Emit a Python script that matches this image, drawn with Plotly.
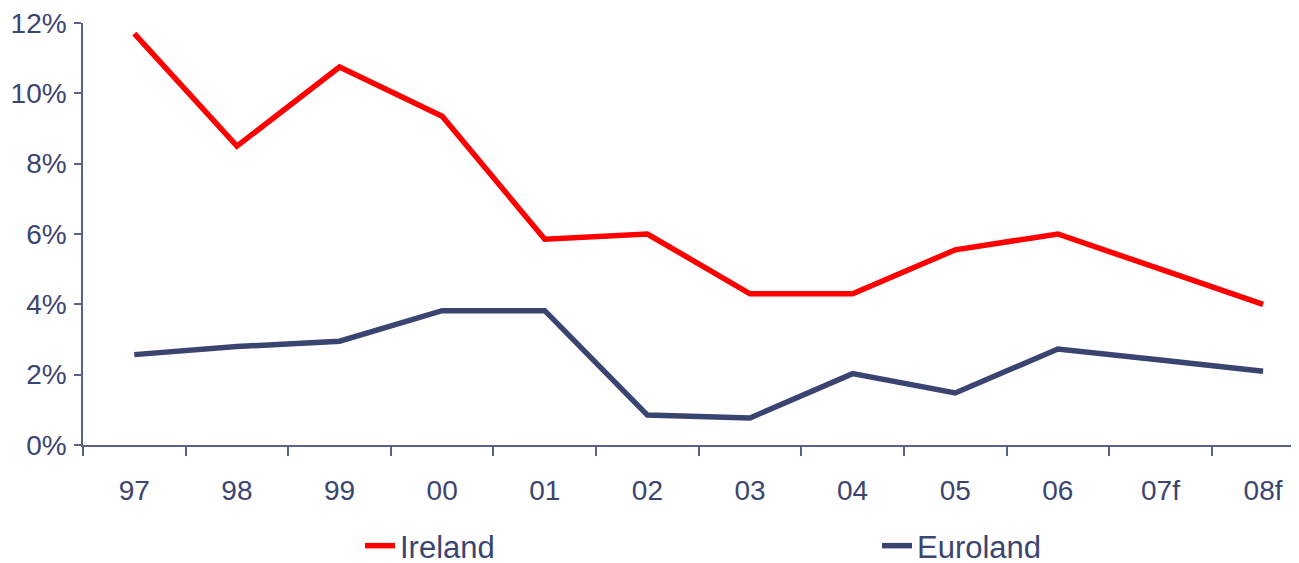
import plotly.graph_objects as go

years = ["97", "98", "99", "00", "01", "02", "03", "04", "05", "06", "07f", "08f"]
ireland = [11.7, 8.5, 10.75, 9.35, 5.85, 6.0, 4.3, 4.3, 5.55, 6.0, 5.0, 4.0]
euroland = [2.57, 2.8, 2.95, 3.82, 3.82, 0.85, 0.77, 2.03, 1.48, 2.73, 2.42, 2.1]

axis_color = "#5a6385"
text_color = "#3b4570"
font_family = "Liberation Sans, Arial, sans-serif"
fs = 28
legend_fs = 31

# page body has an 8px margin: figure is sized to fill the rest of the window
W, H = 1291, 555

fig = go.Figure()
fig.add_trace(go.Scatter(x=years, y=ireland, name="Ireland", mode="lines",
                         line=dict(color="#ff0000", width=5.5), legend="legend"))
fig.add_trace(go.Scatter(x=years, y=euroland, name="Euroland", mode="lines",
                         line=dict(color="#3a4470", width=5.5), legend="legend2"))

leg_common = dict(orientation="h", xref="container", yref="container",
                  xanchor="left", yanchor="middle", y=17 / H,
                  font=dict(size=legend_fs, color=text_color), bgcolor="rgba(0,0,0,0)")

fig.update_layout(
    width=W, height=H,
    margin=dict(l=75, r=0, t=15, b=118, autoexpand=False),
    paper_bgcolor="white", plot_bgcolor="white",
    font=dict(family=font_family, size=fs, color=text_color),
    showlegend=True,
    legend=dict(x=352 / W, **leg_common),
    legend2=dict(x=869 / W, **leg_common),
)
fig.update_xaxes(type="category", range=[-0.5, 11.35], showgrid=False,
                 showline=True, linecolor=axis_color, linewidth=1.5,
                 ticks="outside", ticklen=9, tickcolor=axis_color, tickwidth=1.5,
                 tickson="boundaries", ticklabelstandoff=20, automargin=False,
                 ticklabeloverflow="allow",
                 tickfont=dict(size=fs, color=text_color))
fig.update_yaxes(range=[0, 12], dtick=2, ticksuffix="%", showgrid=False,
                 showline=True, linecolor=axis_color, linewidth=1.5,
                 ticks="outside", ticklen=7, tickcolor=axis_color, tickwidth=1.5,
                 zeroline=False, automargin=False, ticklabelstandoff=2,
                 ticklabeloverflow="allow",
                 tickfont=dict(size=fs, color=text_color))

fig.write_html("out.html")
